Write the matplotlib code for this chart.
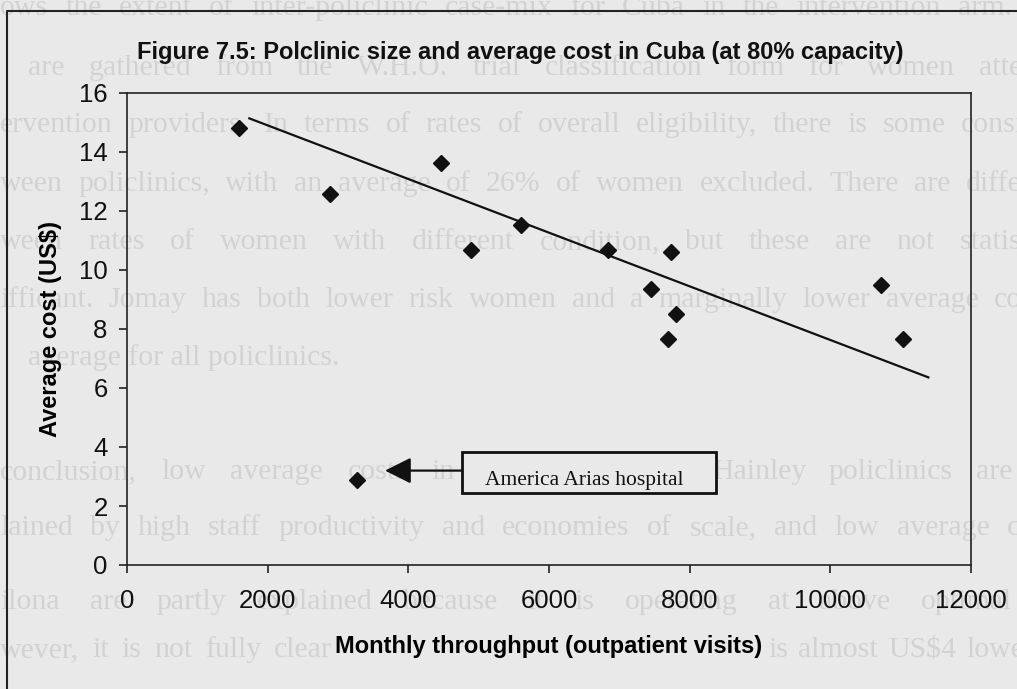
import numpy as np
import matplotlib
matplotlib.use('Agg')
import matplotlib.pyplot as plt
from matplotlib import font_manager
from matplotlib.patches import Rectangle
from matplotlib.lines import Line2D

# data
throughput = [1592, 2886, 4465, 4891, 5602, 6844, 7735, 7450, 7800, 7687, 10721, 11038, 3266]
avg_cost = [14.80, 12.57, 13.62, 10.68, 11.53, 10.68, 10.60, 9.35, 8.50, 7.65, 9.49, 7.65, 2.88]
trend_x = [1739, 11394]
trend_y = [15.14, 6.36]
x_ticks = [0, 2000, 4000, 6000, 8000, 10000, 12000]
y_ticks = [0, 2, 4, 6, 8, 10, 12, 14, 16]
title = 'Figure 7.5: Polclinic size and average cost in Cuba (at 80% capacity)'
note = 'America Arias hospital'

# faint page text showing through the scan
page_lines = [
    ('ows the extent of inter-policlinic case-mix for Cuba in the intervention arm.', 0, 1012, 8, True),
    ('are gathered from the W.H.O. trial classification form for women atte', 28, 1022, 68, True),
    ('ervention providers. In terms of rates of overall eligibility, there is some consi', 0, 1024, 125, True),
    ('ween policlinics, with an average of 26% of women excluded. There are diffe', 0, 1022, 184, True),
    ('ween rates of women with different condition, but these are not statis', 0, 1022, 242, True),
    ('ifficant. Jomay has both lower risk women and a marginally lower average co', 0, 1022, 300, True),
    ('average for all policlinics.', 28, 345, 358, False),
    ('conclusion, low average costs in', 0, 455, 472, True),
    ('Hainley policlinics are', 712, 1012, 472, True),
    ('lained by high staff productivity and economies of scale, and low average c', 0, 1020, 528, True),
    ('ilona are partly explained because it is operating at above optimal', 0, 1012, 602, True),
    ('wever, it is not fully clear', 0, 332, 650, True),
    ('is almost US$4 lowe', 768, 1024, 650, True),
]

installed = {f.name for f in font_manager.fontManager.ttflist}
sans = 'Liberation Sans' if 'Liberation Sans' in installed else 'DejaVu Sans'
serif = 'Liberation Serif' if 'Liberation Serif' in installed else 'DejaVu Serif'
narrow = 'Liberation Sans Narrow' if 'Liberation Sans Narrow' in installed else None

bg = '#e9e9e9'
ink = '#111111'
W, H = 1017, 689
fig = plt.figure(figsize=(W / 100, H / 100), dpi=100)
fig.patch.set_facecolor(bg)
renderer = fig.canvas.get_renderer()

def put_line(text, x0, x1, y, justify):
    kw = dict(fontsize=21.5, family=serif, color='#d2d2d2', va='center', ha='left', zorder=-2)
    words = text.split()
    if not justify or len(words) == 1:
        fig.text(x0 / W, 1 - y / H, text, **kw)
        return
    objs = [fig.text(0, 0, w, **kw) for w in words]
    widths = [o.get_window_extent(renderer).width for o in objs]
    gap = max((x1 - x0 - sum(widths)) / (len(words) - 1), 6)
    x = x0
    for o, w in zip(objs, widths):
        o.set_position((x / W, 1 - y / H))
        x += w + gap

for line in page_lines:
    put_line(*line)

# scan frame
fig.add_artist(Line2D([7 / W, 7 / W, 1.0], [0.0, 1 - 11 / H, 1 - 11 / H],
                      transform=fig.transFigure, color='#222222', lw=1.5))

ax = fig.add_axes([127 / W, 1 - 565 / H, 844 / W, 472 / H])
ax.set_facecolor('none')

ax.plot(trend_x, trend_y, color=ink, lw=1.6, zorder=3)
ax.plot(throughput, avg_cost, 'D', color=ink, markersize=7.8, zorder=4)

ax.set_xlim(0, 12000)
ax.set_ylim(0, 16)
ax.set_xticks(x_ticks)
ax.set_yticks(y_ticks)
ax.tick_params(direction='out', length=6, width=1.1, colors=ink, labelsize=18.5)
ax.tick_params(axis='x', pad=11)
ax.tick_params(axis='y', pad=8)
for lab in ax.get_xticklabels() + ax.get_yticklabels():
    lab.set_family(sans)
for s in ax.spines.values():
    s.set_color('#222222')
    s.set_linewidth(1.2)

ax.set_xlabel('Monthly throughput (outpatient visits)', fontsize=17, fontweight='bold', family=sans)
ax.set_ylabel('Average cost (US$)', fontsize=17, fontweight='bold', family=sans)
ax.xaxis.set_label_coords(0.5, -0.148)
ax.yaxis.set_label_coords(-0.077, 0.5)

if narrow:
    fig.text(520 / W, 1 - 52 / H, title, ha='center', va='center', fontsize=19,
             fontweight='bold', family=narrow, color=ink)
else:
    fig.text(520 / W, 1 - 52 / H, title, ha='center', va='center', fontsize=17,
             fontweight='bold', family=sans, color=ink)

# callout box with arrow
box = Rectangle((4760, 2.44), 3615, 1.39, facecolor=bg, edgecolor=ink, lw=2, zorder=5)
ax.add_patch(box)
t = ax.text(5090, 2.72, note, fontsize=15.5, family=serif, color=ink, va='baseline', ha='left', zorder=6)
t.set_clip_path(box)
ax.annotate('', xy=(3668, 3.2), xytext=(4760, 3.2),
            arrowprops=dict(arrowstyle='-|>,head_length=0.8,head_width=0.4', mutation_scale=20,
                            color=ink, lw=1.6, shrinkA=0, shrinkB=0), zorder=5)

fig.savefig('out.png', dpi=100, facecolor=bg)
